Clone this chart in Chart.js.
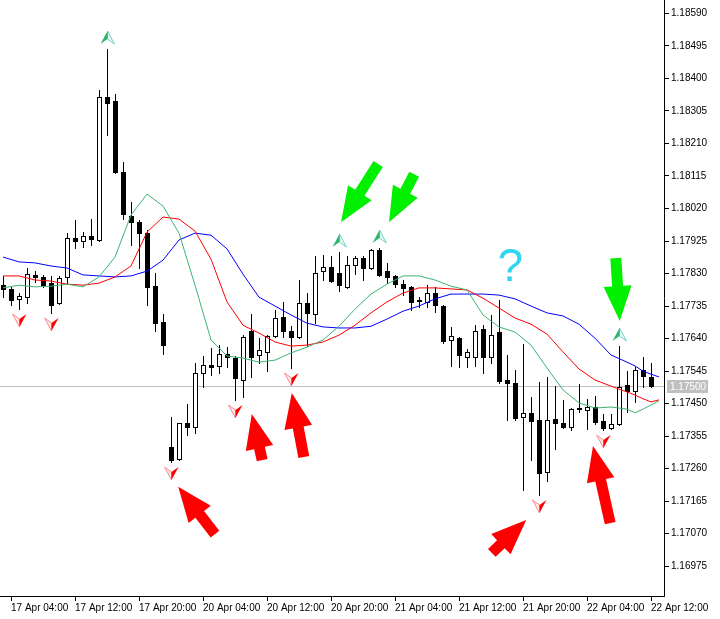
<!DOCTYPE html>
<html>
<head>
<meta charset="utf-8">
<script src="https://cdn.jsdelivr.net/npm/chart.js@4.4.1/dist/chart.umd.min.js"></script>
<style>
  html, body { margin: 0; padding: 0; background: #fff; }
  canvas { display: block; }
</style>
</head>
<body>
<canvas id="chart" width="720" height="619"></canvas>
<script>
// H1 bars, bar 0 = 17 Apr 03:00 ... bar 81 = 22 Apr 12:00
const openP = [
  1.17796, 1.17785, 1.17756, 1.17761, 1.17826, 1.17820, 1.17802, 1.17744, 1.17820, 1.17934,
  1.17925, 1.17940, 1.17928, 1.18345, 1.18334, 1.18126, 1.17998, 1.17980, 1.17948, 1.17793,
  1.17688, 1.17323, 1.17288, 1.17393, 1.17382, 1.17539, 1.17563, 1.17560, 1.17595, 1.17583,
  1.17519, 1.17662, 1.17592, 1.17601, 1.17647, 1.17703, 1.17662, 1.17644, 1.17744, 1.17712,
  1.17837, 1.17849, 1.17831, 1.17791, 1.17855, 1.17875, 1.17846, 1.17899, 1.17837, 1.17823,
  1.17799, 1.17791, 1.17753, 1.17747, 1.17773, 1.17735, 1.17636, 1.17641, 1.17586, 1.17586,
  1.17668, 1.17586, 1.17659, 1.17519, 1.17510, 1.17411, 1.17423, 1.17402, 1.17250, 1.17405,
  1.17393, 1.17382, 1.17434, 1.17431, 1.17440, 1.17399, 1.17379, 1.17390, 1.17504, 1.17487,
  1.17548, 1.17528
];
const highP = [
  1.17823, 1.17791, 1.17773, 1.17846, 1.17837, 1.17826, 1.17823, 1.17823, 1.17948, 1.17986,
  1.17951, 1.17989, 1.18366, 1.18486, 1.18354, 1.18156, 1.18039, 1.17986, 1.17957, 1.17831,
  1.17712, 1.17411, 1.17393, 1.17449, 1.17568, 1.17589, 1.17612, 1.17621, 1.17615, 1.17589,
  1.17650, 1.17712, 1.17641, 1.17650, 1.17723, 1.17747, 1.17676, 1.17811, 1.17773, 1.17881,
  1.17884, 1.17881, 1.17893, 1.17881, 1.17881, 1.17881, 1.17902, 1.17904, 1.17861, 1.17826,
  1.17811, 1.17793, 1.17761, 1.17796, 1.17791, 1.17738, 1.17674, 1.17644, 1.17609, 1.17679,
  1.17679, 1.17709, 1.17753, 1.17592, 1.17548, 1.17624, 1.17469, 1.17513, 1.17528, 1.17501,
  1.17461, 1.17437, 1.17507, 1.17464, 1.17472, 1.17420, 1.17420, 1.17618, 1.17545, 1.17557,
  1.17586, 1.17568
];
const lowP = [
  1.17761, 1.17738, 1.17726, 1.17744, 1.17805, 1.17791, 1.17715, 1.17741, 1.17802, 1.17904,
  1.17907, 1.17913, 1.17925, 1.18234, 1.18123, 1.17989, 1.17913, 1.17846, 1.17738, 1.17662,
  1.17595, 1.17279, 1.17285, 1.17358, 1.17364, 1.17498, 1.17534, 1.17539, 1.17557, 1.17461,
  1.17469, 1.17528, 1.17568, 1.17545, 1.17644, 1.17644, 1.17554, 1.17641, 1.17618, 1.17685,
  1.17811, 1.17805, 1.17779, 1.17788, 1.17828, 1.17811, 1.17843, 1.17823, 1.17802, 1.17791,
  1.17767, 1.17723, 1.17732, 1.17732, 1.17718, 1.17627, 1.17560, 1.17557, 1.17557, 1.17560,
  1.17539, 1.17568, 1.17510, 1.17402, 1.17402, 1.17198, 1.17285, 1.17183, 1.17224, 1.17318,
  1.17379, 1.17373, 1.17426, 1.17376, 1.17390, 1.17373, 1.17376, 1.17388, 1.17426, 1.17455,
  1.17498, 1.17498
];
const closeP = [
  1.17785, 1.17753, 1.17764, 1.17828, 1.17820, 1.17796, 1.17738, 1.17817, 1.17934, 1.17925,
  1.17940, 1.17931, 1.18345, 1.18328, 1.18126, 1.18004, 1.17980, 1.17948, 1.17791, 1.17685,
  1.17621, 1.17285, 1.17393, 1.17382, 1.17539, 1.17563, 1.17557, 1.17595, 1.17586, 1.17525,
  1.17644, 1.17586, 1.17607, 1.17647, 1.17700, 1.17662, 1.17644, 1.17744, 1.17715, 1.17831,
  1.17849, 1.17808, 1.17796, 1.17855, 1.17875, 1.17846, 1.17899, 1.17826, 1.17820, 1.17799,
  1.17788, 1.17747, 1.17751, 1.17773, 1.17738, 1.17633, 1.17647, 1.17592, 1.17601, 1.17662,
  1.17586, 1.17650, 1.17516, 1.17510, 1.17408, 1.17423, 1.17399, 1.17247, 1.17402, 1.17393,
  1.17382, 1.17434, 1.17436, 1.17440, 1.17396, 1.17379, 1.17390, 1.17498, 1.17487, 1.17548,
  1.17531, 1.17500
];

// alligator lines at these bar positions
const maIdx = [0, 2, 4, 6, 8, 10, 12, 14, 16, 18, 20, 22, 24, 26, 28, 30, 32, 34, 36, 38,
  40, 42, 44, 46, 48, 50, 52, 54, 56, 58, 60, 62, 64, 66, 68, 70, 72, 74, 76, 78, 79, 80, 81, 82];
const jawBlue = [
  1.17878, 1.17864, 1.17861, 1.17852, 1.17846, 1.17826, 1.17823, 1.17820, 1.17823, 1.17837,
  1.17869, 1.17928, 1.17948, 1.17942, 1.17902, 1.17828, 1.17761, 1.17735, 1.17709, 1.17685,
  1.17674, 1.17671, 1.17671, 1.17676, 1.17697, 1.17720, 1.17735, 1.17756, 1.17770, 1.17770,
  1.17770, 1.17767, 1.17756, 1.17735, 1.17715, 1.17706, 1.17682, 1.17641, 1.17592, 1.17571,
  1.17560, 1.17545, 1.17536, 1.17528
];
const teethRed = [
  1.17823, 1.17823, 1.17811, 1.17808, 1.17799, 1.17796, 1.17802, 1.17820, 1.17852, 1.17951,
  1.17995, 1.17989, 1.17954, 1.17872, 1.17747, 1.17679, 1.17656, 1.17630, 1.17618, 1.17621,
  1.17630, 1.17650, 1.17679, 1.17715, 1.17747, 1.17773, 1.17788, 1.17788, 1.17785, 1.17782,
  1.17758, 1.17729, 1.17700, 1.17682, 1.17653, 1.17601, 1.17551, 1.17519, 1.17501, 1.17484,
  1.17475, 1.17464, 1.17455, 1.17461
];
const lipsGreen = [
  1.17788, 1.17796, 1.17791, 1.17793, 1.17799, 1.17791, 1.17820, 1.17878, 1.18001, 1.18062,
  1.18027, 1.17948, 1.17796, 1.17636, 1.17589, 1.17583, 1.17571, 1.17577, 1.17598, 1.17615,
  1.17636, 1.17676, 1.17726, 1.17770, 1.17799, 1.17823, 1.17823, 1.17811, 1.17793, 1.17782,
  1.17709, 1.17674, 1.17659, 1.17621, 1.17554, 1.17490, 1.17452, 1.17437, 1.17440, 1.17434,
  1.17423, 1.17434, 1.17446, 1.17458
];

// fractal bars
const fractalUp = [13, 42, 47, 77];
const fractalDown = [2, 6, 21, 29, 36, 67, 75];

// axis ticks
const timeTickIdx = [1, 9, 17, 25, 33, 41, 49, 57, 65, 73, 81];
const timeLabels = ['17 Apr 04:00', '17 Apr 12:00', '17 Apr 20:00', '20 Apr 04:00', '20 Apr 12:00',
  '20 Apr 20:00', '21 Apr 04:00', '21 Apr 12:00', '21 Apr 20:00', '22 Apr 04:00', '22 Apr 12:00'];
const priceTicks = [1.16975, 1.17070, 1.17165, 1.17260, 1.17355, 1.17450, 1.17545, 1.17640, 1.17735,
  1.17830, 1.17925, 1.18020, 1.18115, 1.18210, 1.18305, 1.18400, 1.18495, 1.18590];

// hand-drawn marks on the chart (bar, price)
const bigArrows = [
  { tip: [42.25, 1.17980], tail: [46.9, 1.18150], color: '#00f000' },
  { tip: [48.25, 1.17980], tail: [51.4, 1.18120], color: '#00f000' },
  { tip: [77.1, 1.17691], tail: [76.6, 1.17875], color: '#00f000' },
  { tip: [21.9, 1.17207], tail: [26.5, 1.17069], color: '#ff0000' },
  { tip: [31.1, 1.17420], tail: [32.4, 1.17285], color: '#ff0000' },
  { tip: [36.1, 1.17481], tail: [37.6, 1.17294], color: '#ff0000' },
  { tip: [65.4, 1.17110], tail: [61.1, 1.17014], color: '#ff0000' },
  { tip: [73.75, 1.17326], tail: [75.9, 1.17101], color: '#ff0000' }
];
const questionMark = { bar: 63.4, price: 1.17808 };

const FONT = 'Liberation Sans';

const candles = {
  id: 'candles',
  beforeDatasetsDraw(chart) {
    const { ctx, chartArea: a, scales: { x, y } } = chart;
    ctx.save();
    ctx.beginPath();
    ctx.rect(a.left, a.top, a.width, a.height);
    ctx.clip();

    // bid line
    const yb = Math.floor(y.getPixelForValue(closeP[closeP.length - 1]));
    ctx.fillStyle = '#c0c0c0';
    ctx.fillRect(a.left, yb, a.width, 1);

    for (let i = 0; i < openP.length; i++) {
      const xc = Math.round(x.getPixelForValue(i));
      const yh = Math.round(y.getPixelForValue(highP[i]));
      const yl = Math.round(y.getPixelForValue(lowP[i]));
      const yo = Math.round(y.getPixelForValue(openP[i]));
      const yc = Math.round(y.getPixelForValue(closeP[i]));
      const top = Math.min(yo, yc), bot = Math.max(yo, yc);
      ctx.fillStyle = '#000';
      ctx.fillRect(xc, yh, 1, yl - yh + 1);
      ctx.fillRect(xc - 2, top, 5, bot - top + 1);
      if (closeP[i] > openP[i] && bot - top >= 2) {
        ctx.fillStyle = '#fff';
        ctx.fillRect(xc - 1, top + 1, 3, bot - top - 1);
      }
    }
    ctx.restore();
  }
};

function arrowPath(ctx, t, s, headLen, headW, shaftW) {
  const dx = t[0] - s[0], dy = t[1] - s[1];
  const len = Math.hypot(dx, dy);
  const ux = dx / len, uy = dy / len;
  const nx = -uy, ny = ux;
  const bx = t[0] - ux * headLen, by = t[1] - uy * headLen;
  ctx.beginPath();
  ctx.moveTo(s[0] + nx * shaftW / 2, s[1] + ny * shaftW / 2);
  ctx.lineTo(bx + nx * shaftW / 2, by + ny * shaftW / 2);
  ctx.lineTo(bx + nx * headW / 2, by + ny * headW / 2);
  ctx.lineTo(t[0], t[1]);
  ctx.lineTo(bx - nx * headW / 2, by - ny * headW / 2);
  ctx.lineTo(bx - nx * shaftW / 2, by - ny * shaftW / 2);
  ctx.lineTo(s[0] - nx * shaftW / 2, s[1] - ny * shaftW / 2);
  ctx.closePath();
}

const marks = {
  id: 'marks',
  afterDatasetsDraw(chart) {
    const { ctx, chartArea: a, scales: { x, y } } = chart;
    ctx.save();
    ctx.beginPath();
    ctx.rect(a.left, a.top, a.width, a.height);
    ctx.clip();

    // fractals
    fractalDown.forEach(i => {
      const xc = Math.round(x.getPixelForValue(i)) + 0.5;
      const y0 = Math.round(y.getPixelForValue(lowP[i])) + 5;
      ctx.beginPath();
      ctx.moveTo(xc, y0 + 5); ctx.lineTo(xc - 7, y0); ctx.lineTo(xc, y0 + 13); ctx.closePath();
      ctx.fillStyle = '#ffe6e6'; ctx.fill();
      ctx.strokeStyle = '#ff8c8c'; ctx.lineWidth = 1; ctx.stroke();
      ctx.beginPath();
      ctx.moveTo(xc, y0 + 5); ctx.lineTo(xc + 7, y0); ctx.lineTo(xc, y0 + 13); ctx.closePath();
      ctx.fillStyle = '#ff0000'; ctx.fill();
    });
    fractalUp.forEach(i => {
      const xc = Math.round(x.getPixelForValue(i)) + 0.5;
      const y1 = Math.round(y.getPixelForValue(highP[i])) - 5;
      ctx.beginPath();
      ctx.moveTo(xc, y1 - 5); ctx.lineTo(xc + 7, y1); ctx.lineTo(xc, y1 - 13); ctx.closePath();
      ctx.fillStyle = '#e6fbf6'; ctx.fill();
      ctx.strokeStyle = '#6fd3c8'; ctx.lineWidth = 1; ctx.stroke();
      ctx.beginPath();
      ctx.moveTo(xc, y1 - 5); ctx.lineTo(xc - 7, y1); ctx.lineTo(xc, y1 - 13); ctx.closePath();
      ctx.fillStyle = '#2fb36f'; ctx.fill();
    });

    // big arrows
    bigArrows.forEach(ar => {
      const t = [x.getPixelForValue(ar.tip[0]), y.getPixelForValue(ar.tip[1])];
      const s = [x.getPixelForValue(ar.tail[0]), y.getPixelForValue(ar.tail[1])];
      arrowPath(ctx, t, s, 35, 28, 11);
      ctx.fillStyle = ar.color;
      ctx.fill();
    });

    // question mark
    ctx.font = '46px "' + FONT + '"';
    ctx.fillStyle = '#2fd6f2';
    ctx.textAlign = 'center';
    ctx.textBaseline = 'alphabetic';
    ctx.fillText('?', x.getPixelForValue(questionMark.bar), y.getPixelForValue(questionMark.price));
    ctx.restore();
  },
  afterDraw(chart) {
    const { ctx, chartArea: a, scales: { y } } = chart;
    const last = closeP[closeP.length - 1];
    const yb = Math.floor(y.getPixelForValue(last));
    ctx.save();
    ctx.fillStyle = '#c0c0c0';
    ctx.fillRect(a.right + 3, yb - 6, 41, 13);
    ctx.fillStyle = '#fff';
    ctx.font = '10px "' + FONT + '"';
    ctx.textAlign = 'left';
    ctx.textBaseline = 'middle';
    ctx.fillText(last.toFixed(5), a.right + 6, yb + 1);
    ctx.restore();
  }
};

const line = (vals, color) => ({
  data: maIdx.map((v, k) => ({ x: v, y: vals[k] })),
  borderColor: color,
  borderWidth: 1,
  pointRadius: 0,
  tension: 0,
  fill: false
});

new Chart(document.getElementById('chart'), {
  type: 'line',
  data: {
    datasets: [
      line(lipsGreen, '#3cb371'),
      line(teethRed, '#ff0000'),
      line(jawBlue, '#0000ff')
    ]
  },
  options: {
    responsive: false,
    animation: false,
    events: [],
    layout: { padding: 0 },
    plugins: { legend: { display: false }, tooltip: { enabled: false } },
    scales: {
      x: {
        type: 'linear',
        min: -0.375,
        max: 82.625,
        position: 'bottom',
        border: { display: true, color: '#000', width: 1 },
        grid: { drawOnChartArea: false, drawTicks: true, tickLength: 5, color: '#000' },
        ticks: {
          autoSkip: false, maxRotation: 0, minRotation: 0, align: 'start', padding: 1,
          color: '#000', font: { family: FONT, size: 10 },
          callback: v => timeLabels[timeTickIdx.indexOf(v)]
        },
        afterBuildTicks: s => { s.ticks = timeTickIdx.map(v => ({ value: v })); },
        afterFit: s => { s.height = 23; s.paddingLeft = 0; s.paddingRight = 0; }
      },
      y: {
        type: 'linear',
        position: 'right',
        min: 1.16888,
        max: 1.18629,
        border: { display: true, color: '#000', width: 1 },
        grid: { drawOnChartArea: false, drawTicks: true, tickLength: 5, color: '#000' },
        ticks: {
          autoSkip: false, padding: 2, color: '#000', font: { family: FONT, size: 10 },
          callback: v => v.toFixed(5)
        },
        afterBuildTicks: s => { s.ticks = priceTicks.map(v => ({ value: v })); },
        afterFit: s => { s.width = 56; s.paddingTop = 0; s.paddingBottom = 0; }
      }
    }
  },
  plugins: [candles, marks]
});
</script>
</body>
</html>
